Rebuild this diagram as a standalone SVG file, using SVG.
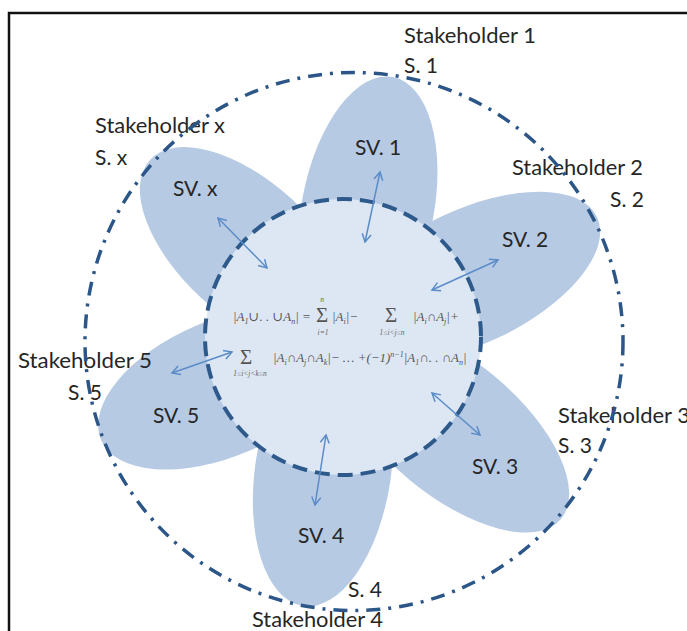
<svg xmlns="http://www.w3.org/2000/svg" width="687" height="631" viewBox="0 0 687 631">
<style>
.petal{fill:#b7cae4;}
.lb{font-family:Lato,"Open Sans","Liberation Sans",sans-serif;font-size:21px;fill:#262626;}
.f{font-family:"Liberation Serif","DejaVu Serif",serif;font-style:italic;font-size:13px;fill:#555;}
.s{font-size:8px;}
.sig{font-family:"Liberation Serif","DejaVu Serif",serif;font-size:21px;fill:#555;}
.sub{font-family:"Liberation Serif","DejaVu Serif",serif;font-style:italic;font-size:7.5px;fill:#666;}
.arr{stroke:#5b8cc8;stroke-width:1.5;fill:none;marker-start:url(#ah);marker-end:url(#ah);}
</style>
<defs>
<marker id="ah" viewBox="-10 -7 12 14" refX="0" refY="0" markerWidth="12" markerHeight="14" markerUnits="userSpaceOnUse" orient="auto-start-reverse">
<path d="M-8,-4.5 L0,0 L-8,4.5" fill="none" stroke="#5b8cc8" stroke-width="1.5"/>
</marker>
</defs>
<rect x="0" y="0" width="687" height="631" fill="#fff"/>
<rect x="9" y="13" width="700" height="650" fill="none" stroke="#111" stroke-width="2.5"/>

<g id="petal-1"><ellipse class="petal" cx="368" cy="207" rx="132.4" ry="66" transform="rotate(-79.11 368 207)"/><text class="lb" x="355" y="155">SV. 1</text></g>
<g id="petal-2"><ellipse class="petal" cx="470" cy="277" rx="140.5" ry="67" transform="rotate(-25.29 470 277)"/><text class="lb" x="502" y="247">SV. 2</text></g>
<g id="petal-3"><ellipse class="petal" cx="452" cy="428" rx="142" ry="67" transform="rotate(39.86 452 428)"/><text class="lb" x="472" y="474">SV. 3</text></g>
<g id="petal-4"><ellipse class="petal" cx="323" cy="471.5" rx="136" ry="68" transform="rotate(98.46 323 471.5)"/><text class="lb" x="298" y="543">SV. 4</text></g>
<g id="petal-5"><ellipse class="petal" cx="222" cy="388.5" rx="131.5" ry="68" transform="rotate(156.94 222 388.5)"/><text class="lb" x="153" y="423">SV. 5</text></g>
<g id="petal-x"><ellipse class="petal" cx="246.5" cy="248.5" rx="131" ry="67" transform="rotate(-137.48 246.5 248.5)"/><text class="lb" x="173" y="196">SV. x</text></g>

<g id="center">
<circle cx="343" cy="337" r="138" fill="#dde7f3"/>
<circle cx="343" cy="337" r="138" fill="none" stroke="#2d5a8b" stroke-width="4" stroke-dasharray="15 8"/>
<text class="f" x="233" y="321">|A<tspan class="s" dy="3">1</tspan><tspan dy="-3">∪. . ∪A</tspan><tspan class="s" dy="3">n</tspan><tspan dy="-3">| =</tspan></text>
<text class="sig" x="322" y="322" text-anchor="middle">Σ</text>
<text class="sub" x="322" y="302" text-anchor="middle">n</text>
<text class="sub" x="323" y="335" text-anchor="middle">i=1</text>
<text class="f" x="332" y="321">|A<tspan class="s" dy="3">i</tspan><tspan dy="-3">|−</tspan></text>
<text class="sig" x="391" y="322" text-anchor="middle">Σ</text>
<text class="sub" x="392" y="335" text-anchor="middle">1≤i&lt;j≤n</text>
<text class="f" x="413" y="321">|A<tspan class="s" dy="3">i</tspan><tspan dy="-3">∩A</tspan><tspan class="s" dy="3">j</tspan><tspan dy="-3">|+</tspan></text>
<text class="sig" x="246" y="364" text-anchor="middle">Σ</text>
<text class="sub" x="250" y="376" text-anchor="middle">1≤i&lt;j&lt;k≤n</text>
<text class="f" x="273" y="362">|A<tspan class="s" dy="3">i</tspan><tspan dy="-3">∩A</tspan><tspan class="s" dy="3">j</tspan><tspan dy="-3">∩A</tspan><tspan class="s" dy="3">k</tspan><tspan dy="-3">|− … +(−1)</tspan><tspan class="s" dy="-5">n−1</tspan><tspan dy="5">|A</tspan><tspan class="s" dy="3">1</tspan><tspan dy="-3">∩. . ∩A</tspan><tspan class="s" dy="3">n</tspan><tspan dy="-3">|</tspan></text>
</g>

<g id="stakeholder-1"><text class="lb" x="404" y="43" textLength="132" lengthAdjust="spacingAndGlyphs">Stakeholder 1</text><text class="lb" x="404" y="73">S. 1</text></g>
<g id="stakeholder-2"><text class="lb" x="512" y="175" textLength="131" lengthAdjust="spacingAndGlyphs">Stakeholder 2</text><text class="lb" x="610" y="207">S. 2</text></g>
<g id="stakeholder-3"><text class="lb" x="558" y="423" textLength="132" lengthAdjust="spacingAndGlyphs">Stakeholder 3</text><text class="lb" x="558" y="453">S. 3</text></g>
<g id="stakeholder-4"><text class="lb" x="252" y="627" textLength="131" lengthAdjust="spacingAndGlyphs">Stakeholder 4</text><text class="lb" x="348" y="597">S. 4</text></g>
<g id="stakeholder-5"><text class="lb" x="18" y="368" textLength="134" lengthAdjust="spacingAndGlyphs">Stakeholder 5</text><text class="lb" x="68" y="400">S. 5</text></g>
<g id="stakeholder-x"><text class="lb" x="95" y="133" textLength="130" lengthAdjust="spacingAndGlyphs">Stakeholder x</text><text class="lb" x="95" y="165">S. x</text></g>

<g id="boundary"><circle cx="354" cy="341.5" r="269" fill="none" stroke="#2c5687" stroke-width="3.5" stroke-dasharray="14 8 3 8"/></g>

<g id="connectors">
<line class="arr" x1="380" y1="172" x2="365" y2="242"/>
<line class="arr" x1="218" y1="218" x2="267" y2="268"/>
<line class="arr" x1="432" y1="290" x2="498" y2="260"/>
<line class="arr" x1="432" y1="393" x2="480" y2="435"/>
<line class="arr" x1="326" y1="435" x2="315" y2="505"/>
<line class="arr" x1="172" y1="373" x2="232" y2="352"/>
</g>
</svg>
